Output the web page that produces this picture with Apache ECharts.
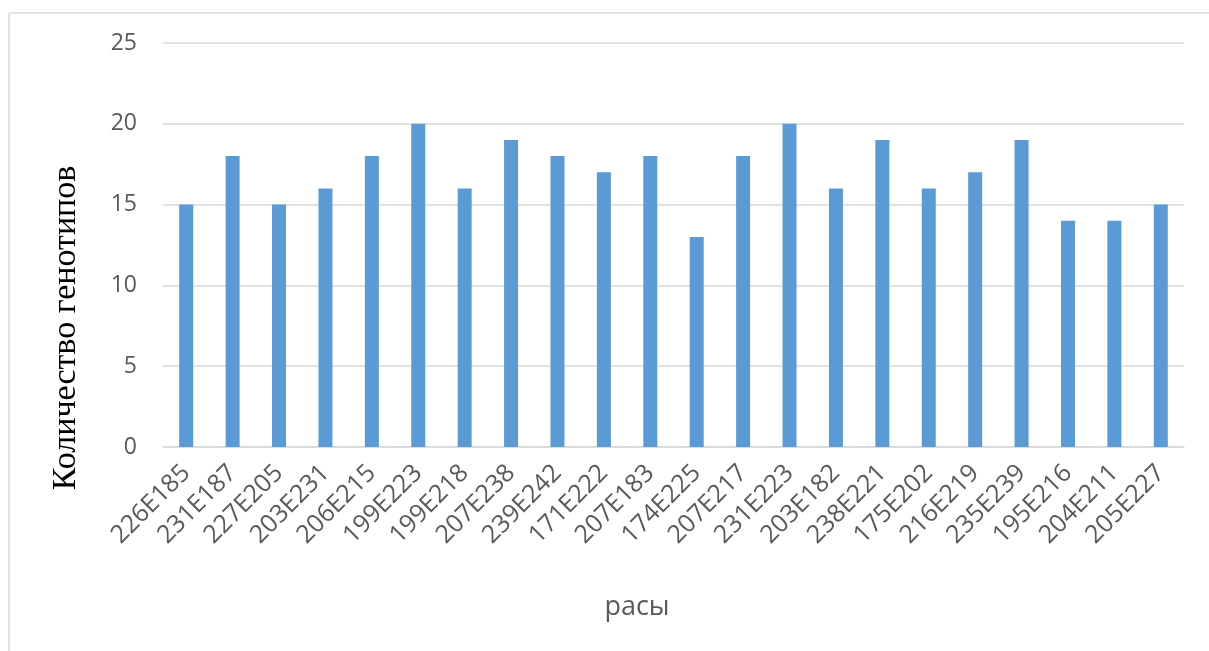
<!DOCTYPE html>
<html>
<head>
<meta charset="utf-8">
<style>
  html, body { margin: 0; padding: 0; background: #ffffff; }
  #chart { width: 1209px; height: 651px; }
</style>
<script src="https://cdn.jsdelivr.net/npm/echarts@6/dist/echarts.min.js"></script>
</head>
<body>
<div id="chart"></div>
<script>
// Races (categories) and number of genotypes per race
const races = ['226E185', '231E187', '227E205', '203E231', '206E215', '199E223', '199E218', '207E238',
  '239E242', '171E222', '207E183', '174E225', '207E217', '231E223', '203E182', '238E221',
  '175E202', '216E219', '235E239', '195E216', '204E211', '205E227'];
const genotypes = [15, 18, 15, 16, 18, 20, 16, 19, 18, 17, 18, 13, 18, 20, 16, 19, 16, 17, 19, 14, 14, 15];
const yTicks = [0, 5, 10, 15, 20, 25];

const yTitle = 'Количество генотипов';
const xTitle = 'расы';

const chart = echarts.init(document.getElementById('chart'), null, { renderer: 'canvas' });

chart.setOption({
  animation: false,
  backgroundColor: '#ffffff',
  grid: { left: 163, right: 25, top: 43, bottom: 204, containLabel: false },
  xAxis: {
    type: 'category',
    data: races,
    axisLine: { show: true, lineStyle: { color: '#d9d9d9', width: 1.5 } },
    axisTick: { show: false },
    axisLabel: {
      rotate: 45,
      interval: 0,
      margin: 22,
      color: '#595959',
      fontFamily: 'Open Sans',
      fontSize: 25
    }
  },
  yAxis: {
    type: 'value',
    min: yTicks[0],
    max: yTicks[yTicks.length - 1],
    interval: yTicks[1] - yTicks[0],
    axisLine: { show: false },
    axisTick: { show: false },
    splitLine: { lineStyle: { color: '#d9d9d9', width: 1.5 } },
    axisLabel: {
      margin: 26,
      color: '#595959',
      fontFamily: 'Open Sans',
      fontSize: 23
    }
  },
  series: [{
    type: 'bar',
    data: genotypes,
    barWidth: 14,
    itemStyle: { color: '#5b9bd5' }
  }],
  graphic: [
    // frame: top and left edges
    { type: 'line', shape: { x1: 9, y1: 13, x2: 1209, y2: 13 }, style: { stroke: '#d9d9d9', lineWidth: 1.5 }, silent: true },
    { type: 'line', shape: { x1: 9, y1: 13, x2: 9, y2: 651 }, style: { stroke: '#d9d9d9', lineWidth: 1.5 }, silent: true },
    {
      type: 'text',
      x: 66, y: 328,
      rotation: Math.PI / 2,
      style: {
        text: yTitle,
        fill: '#000000',
        font: '34px "Liberation Serif"',
        textAlign: 'center',
        textVerticalAlign: 'middle'
      },
      silent: true
    },
    {
      type: 'text',
      x: 637, y: 607,
      style: {
        text: xTitle,
        fill: '#595959',
        font: '27px "Open Sans"',
        textAlign: 'center',
        textVerticalAlign: 'middle'
      },
      silent: true
    }
  ]
});
</script>
</body>
</html>
